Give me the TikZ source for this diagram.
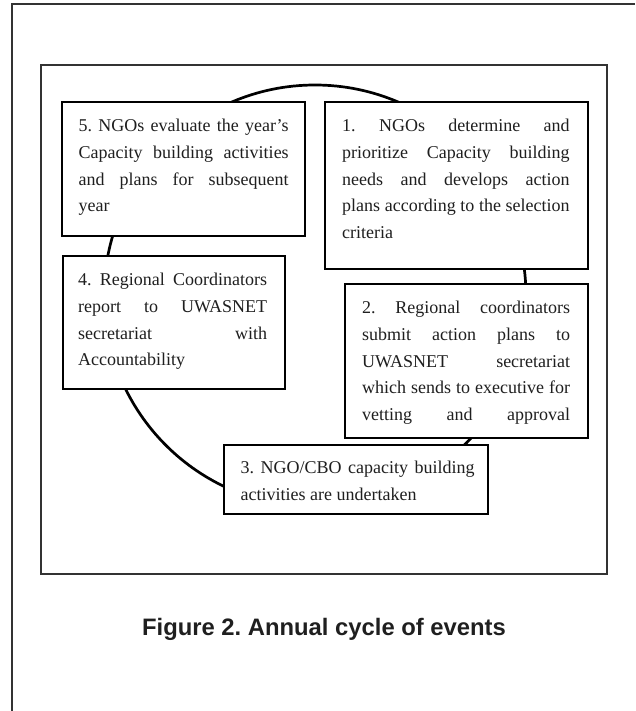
\documentclass[tikz,border=0pt]{standalone}
\usepackage{fontspec}
\setmainfont{Liberation Serif}
\newfontfamily\capfont{Liberation Sans}
\usetikzlibrary{calc}
\tolerance=10000
\hbadness=10000
\hyphenpenalty=10000
\frenchspacing
\begin{document}
\begin{tikzpicture}[x=1pt,y=-1pt,
  frameline/.style={draw=black!80, line width=1.3pt},
  stepbox/.style 2 args={draw=black, line width=1.8pt, fill=white, anchor=north west,
    inner sep=0pt, minimum width=#1pt, minimum height=#2pt},
  steptext/.style={anchor=north west, inner sep=0pt, text width=#1pt, align=justify,
    text=black!88, font=\fontsize{18}{26.8}\selectfont\frenchspacing},
  cyc/.style={circle, draw=black, line width=2.7pt, inner sep=0pt, minimum size=422pt}
]
\useasboundingbox (0,0) rectangle (635,711);
% outer page frame (cropped)
\draw[frameline] (635,4) -- (12,4) -- (12,711);
% inner frame
\draw[frameline] (41,65) rectangle (607,574);
% cycle
\node[cyc] (cycle) at (315,296) {};
% boxes
\node[stepbox={243}{134}] (b5) at (61,101) {};
\node[stepbox={263}{167}] (b1) at (324,101) {};
\node[stepbox={222}{133}] (b4) at (62,255) {};
\node[stepbox={243}{154}] (b2) at (344,283) {};
\node[stepbox={264}{69}] (b3) at (223,444) {};
% texts
\node[steptext=210] (t5) at ($(b5.north west)+(17.5,11.5)$)
  {\strut 5. NGOs evaluate the year’s\linebreak Capacity building activities\linebreak and plans for subsequent\linebreak year};
\node[steptext=227.5] (t1) at ($(b1.north west)+(18,11.5)$)
  {\strut 1. NGOs determine and\linebreak prioritize Capacity building\linebreak needs and develops action\linebreak plans according to the selection\linebreak criteria};
\node[steptext=189] (t4) at ($(b4.north west)+(16,11.5)$)
  {\strut 4. Regional Coordinators\linebreak report to UWASNET\linebreak secretariat with\linebreak Accountability};
\node[steptext=208] (t2) at ($(b2.north west)+(18,11.5)$)
  {\strut 2. Regional coordinators\linebreak submit action plans to\linebreak UWASNET secretariat\linebreak which sends to executive for\linebreak vetting\hfill and\hfill approval};
\node[steptext=234] (t3) at ($(b3.north west)+(17.5,10.5)$)
  {\strut 3. NGO/CBO capacity building\linebreak activities are undertaken};
% caption
\node[anchor=base, inner sep=0pt, text=black!88, font=\capfont\bfseries\fontsize{23.8}{28}\selectfont] (cap) at (324,635) {Figure 2. Annual cycle of events};
\end{tikzpicture}
\end{document}
